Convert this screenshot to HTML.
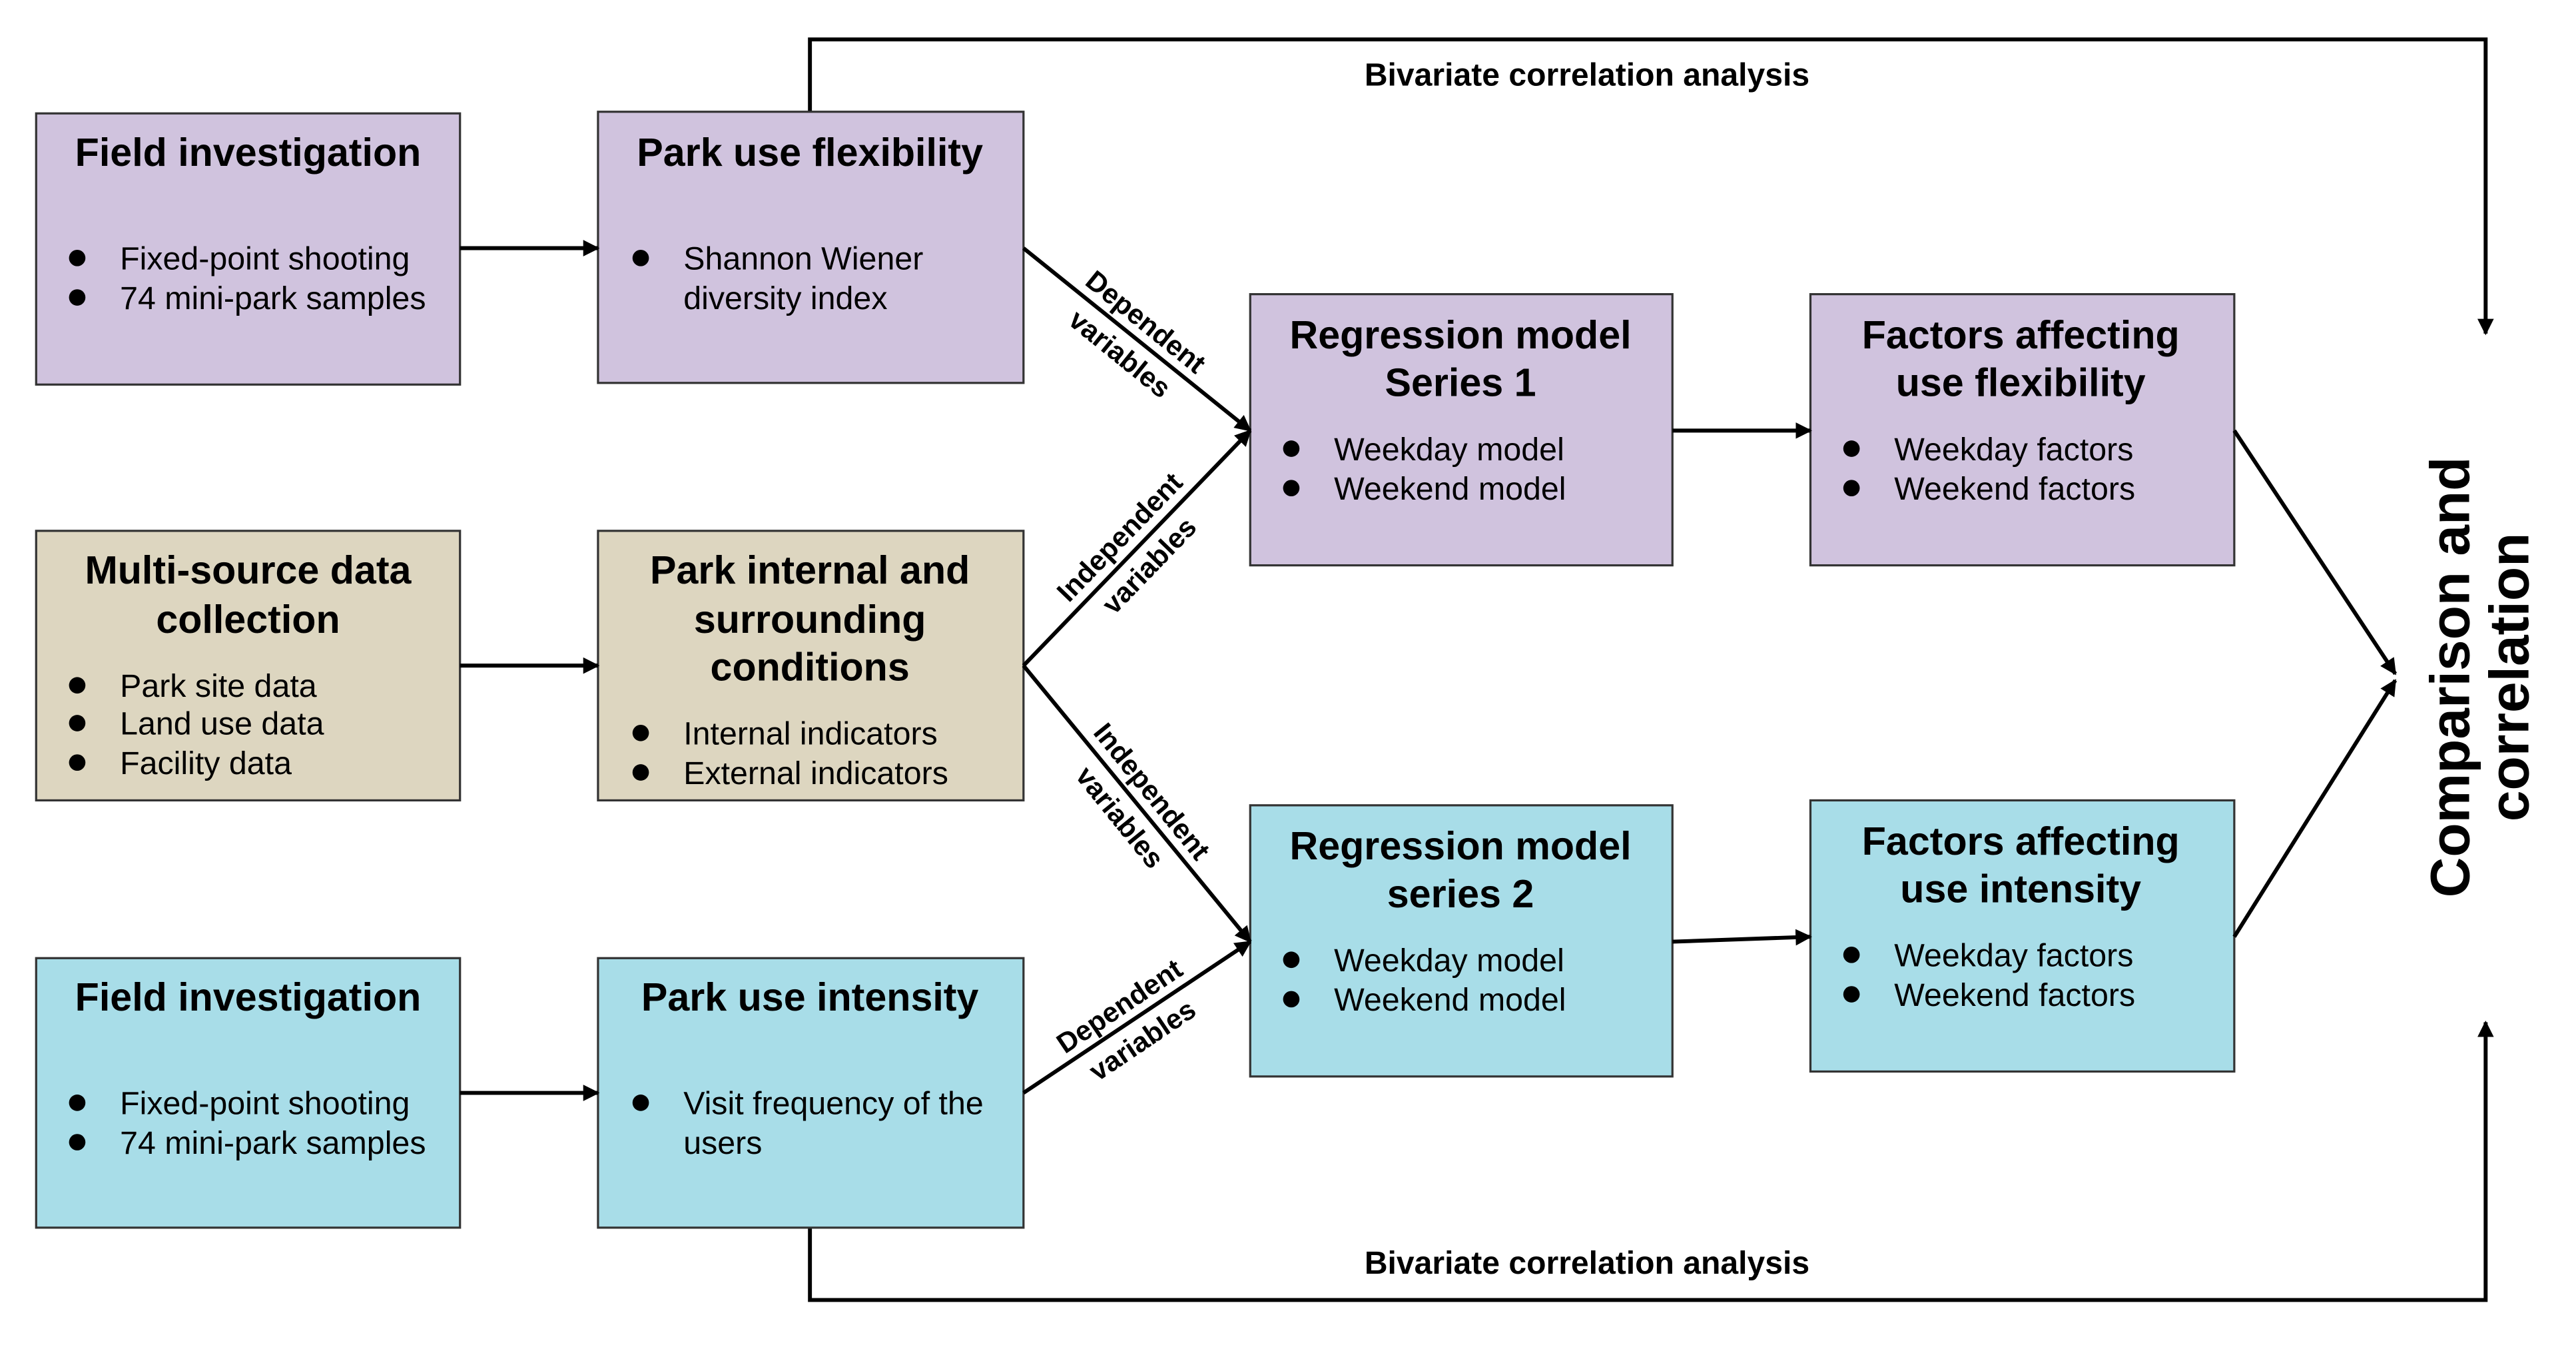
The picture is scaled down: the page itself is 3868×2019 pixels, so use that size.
<!DOCTYPE html>
<html><head><meta charset="utf-8">
<style>
html,body{margin:0;padding:0;background:#fff;}
svg{display:block;}
text{font-family:"Liberation Sans",sans-serif;fill:#000;}
.t{font-size:24px;font-weight:bold;text-anchor:middle;}
.b{font-size:19.6px;}
.l{font-size:17px;font-weight:bold;text-anchor:middle;}
.box{stroke:#333;stroke-width:1.3;}
.ln{stroke:#000;stroke-width:2.4;fill:none;}
</style></head>
<body>
<svg width="3868" height="2019" viewBox="0 0 1568 818.4" preserveAspectRatio="none" xmlns="http://www.w3.org/2000/svg">
<defs>
<marker id="ar" markerWidth="10" markerHeight="10" refX="9" refY="5" orient="auto" markerUnits="userSpaceOnUse">
<path d="M0,0 L10,5 L0,10 z" fill="#000"/>
</marker>
</defs>
<rect width="1568" height="818.4" fill="#fff"/>

<path class="ln" d="M493,68 V24 H1513 V203" marker-end="url(#ar)"/>
<path class="ln" d="M493,747 V791 H1513 V622" marker-end="url(#ar)"/>
<text class="l" x="966" y="52" style="font-size:19.5px">Bivariate correlation analysis</text>
<text class="l" x="966" y="775" style="font-size:19.5px">Bivariate correlation analysis</text>

<g class="box">
<rect x="22" y="69" width="258" height="165" fill="#D0C3DE"/>
<rect x="364" y="68" width="259" height="165" fill="#D0C3DE"/>
<rect x="22" y="323" width="258" height="164" fill="#DDD6C0"/>
<rect x="364" y="323" width="259" height="164" fill="#DDD6C0"/>
<rect x="22" y="583" width="258" height="164" fill="#A8DDE8"/>
<rect x="364" y="583" width="259" height="164" fill="#A8DDE8"/>
<rect x="761" y="179" width="257" height="165" fill="#D0C3DE"/>
<rect x="1102" y="179" width="258" height="165" fill="#D0C3DE"/>
<rect x="761" y="490" width="257" height="165" fill="#A8DDE8"/>
<rect x="1102" y="487" width="258" height="165" fill="#A8DDE8"/>
</g>

<text class="t" x="151" y="101">Field investigation</text>
<circle cx="47" cy="157" r="5"/><text class="b" x="73" y="164">Fixed-point shooting</text>
<circle cx="47" cy="181" r="5"/><text class="b" x="73" y="188">74 mini-park samples</text>

<text class="t" x="493" y="101">Park use flexibility</text>
<circle cx="390" cy="157" r="5"/><text class="b" x="416" y="164">Shannon Wiener</text>
<text class="b" x="416" y="188">diversity index</text>

<text class="t" x="151" y="355">Multi-source data</text>
<text class="t" x="151" y="385">collection</text>
<circle cx="47" cy="417" r="5"/><text class="b" x="73" y="424">Park site data</text>
<circle cx="47" cy="440" r="5"/><text class="b" x="73" y="447">Land use data</text>
<circle cx="47" cy="464" r="5"/><text class="b" x="73" y="471">Facility data</text>

<text class="t" x="493" y="355">Park internal and</text>
<text class="t" x="493" y="385">surrounding</text>
<text class="t" x="493" y="414">conditions</text>
<circle cx="390" cy="446" r="5"/><text class="b" x="416" y="453">Internal indicators</text>
<circle cx="390" cy="470" r="5"/><text class="b" x="416" y="477">External indicators</text>

<text class="t" x="151" y="615">Field investigation</text>
<circle cx="47" cy="671" r="5"/><text class="b" x="73" y="678">Fixed-point shooting</text>
<circle cx="47" cy="695" r="5"/><text class="b" x="73" y="702">74 mini-park samples</text>

<text class="t" x="493" y="615">Park use intensity</text>
<circle cx="390" cy="671" r="5"/><text class="b" x="416" y="678">Visit frequency of the</text>
<text class="b" x="416" y="702">users</text>

<text class="t" x="889" y="212">Regression model</text>
<text class="t" x="889" y="241">Series 1</text>
<circle cx="786" cy="273" r="5"/><text class="b" x="812" y="280">Weekday model</text>
<circle cx="786" cy="297" r="5"/><text class="b" x="812" y="304">Weekend model</text>

<text class="t" x="1230" y="212">Factors affecting</text>
<text class="t" x="1230" y="241">use flexibility</text>
<circle cx="1127" cy="273" r="5"/><text class="b" x="1153" y="280">Weekday factors</text>
<circle cx="1127" cy="297" r="5"/><text class="b" x="1153" y="304">Weekend factors</text>

<text class="t" x="889" y="523">Regression model</text>
<text class="t" x="889" y="552">series 2</text>
<circle cx="786" cy="584" r="5"/><text class="b" x="812" y="591">Weekday model</text>
<circle cx="786" cy="608" r="5"/><text class="b" x="812" y="615">Weekend model</text>

<text class="t" x="1230" y="520">Factors affecting</text>
<text class="t" x="1230" y="549">use intensity</text>
<circle cx="1127" cy="581" r="5"/><text class="b" x="1153" y="588">Weekday factors</text>
<circle cx="1127" cy="605" r="5"/><text class="b" x="1153" y="612">Weekend factors</text>

<line class="ln" x1="280" y1="151" x2="364" y2="151" marker-end="url(#ar)"/>
<line class="ln" x1="280" y1="405" x2="364" y2="405" marker-end="url(#ar)"/>
<line class="ln" x1="280" y1="665" x2="364" y2="665" marker-end="url(#ar)"/>
<line class="ln" x1="623" y1="151" x2="761" y2="262" marker-end="url(#ar)"/>
<line class="ln" x1="623" y1="405" x2="761" y2="262" marker-end="url(#ar)"/>
<line class="ln" x1="623" y1="405" x2="761" y2="573" marker-end="url(#ar)"/>
<line class="ln" x1="623" y1="665" x2="761" y2="573" marker-end="url(#ar)"/>
<line class="ln" x1="1018" y1="262" x2="1102" y2="262" marker-end="url(#ar)"/>
<line class="ln" x1="1018" y1="573" x2="1102" y2="570" marker-end="url(#ar)"/>
<line class="ln" x1="1360" y1="262" x2="1458" y2="410" marker-end="url(#ar)"/>
<line class="ln" x1="1360" y1="570" x2="1458" y2="414" marker-end="url(#ar)"/>

<g transform="translate(690,205) rotate(39)">
<text class="l" x="0" y="-6">Dependent</text><text class="l" x="0" y="19">variables</text></g>
<g transform="translate(690,335) rotate(-46)">
<text class="l" x="0" y="-6">Independent</text><text class="l" x="0" y="19">variables</text></g>
<g transform="translate(692,489) rotate(51)">
<text class="l" x="0" y="-6">Independent</text><text class="l" x="0" y="19">variables</text></g>
<g transform="translate(688,622) rotate(-34)">
<text class="l" x="0" y="-6">Dependent</text><text class="l" x="0" y="19">variables</text></g>

<g transform="translate(1513,412) rotate(-90)">
<text x="0" y="-10" style="font-size:34px;font-weight:bold;text-anchor:middle">Comparison and</text>
<text x="0" y="26" style="font-size:34px;font-weight:bold;text-anchor:middle">correlation</text>
</g>
</svg>
</body></html>
